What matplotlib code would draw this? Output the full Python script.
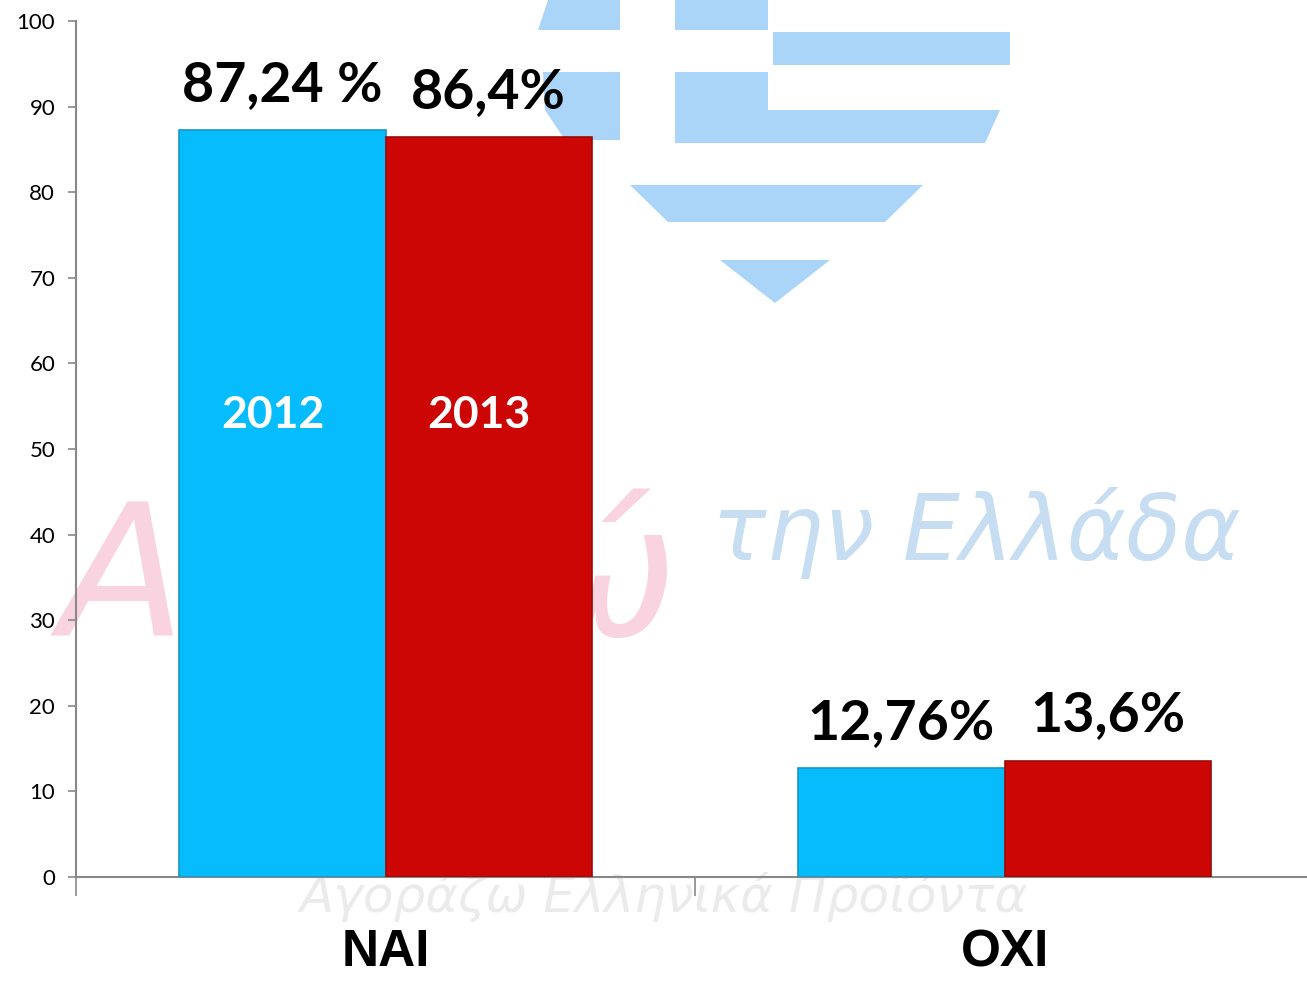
import matplotlib
matplotlib.use("Agg")
import matplotlib.pyplot as plt
from matplotlib.patches import Polygon
from matplotlib.transforms import Affine2D
import numpy as np

# ---- data ----
categories = ["ΝΑΙ", "ΟΧΙ"]
years = ["2012", "2013"]
values_2012 = [87.24, 12.76]
values_2013 = [86.4, 13.6]
labels_2012 = ["87,24 %", "12,76%"]
labels_2013 = ["86,4%", "13,6%"]
yticks = list(range(0, 101, 10))

W, H = 1307, 981
fig = plt.figure(figsize=(W / 100, H / 100), dpi=100)
fig.patch.set_facecolor("white")

# ---- faint background watermark (decorative) ----
px = Affine2D().scale(1 / W, -1 / H).translate(0, 1) + fig.transFigure
flag_blue = "#AAD4F8"
shapes = [
    [(548, 0), (620, 0), (620, 30), (538, 30)],
    [(675, 0), (768, 0), (768, 30), (675, 30)],
    [(773, 32), (1010, 32), (1010, 65), (773, 65)],
    [(543, 72), (620, 72), (620, 140), (565, 140), (545, 110)],
    [(675, 72), (768, 72), (768, 110), (1000, 110), (985, 143), (675, 143)],
    [(630, 185), (923, 185), (885, 222), (668, 222)],
    [(720, 260), (830, 260), (775, 303)],
]
for s in shapes:
    fig.add_artist(Polygon(s, closed=True, transform=px, facecolor=flag_blue,
                           edgecolor="none", zorder=-2))

fig.text(60 / W, 1 - 635 / H, "Αγαπώ", transform=fig.transFigure, fontsize=132,
         style="italic", color="#F9D3E0", zorder=-2, family="DejaVu Sans")
fig.text(712 / W, 1 - 560 / H, "την Ελλάδα", transform=fig.transFigure, fontsize=65,
         style="italic", color="#C6DDF2", zorder=-2, family="DejaVu Sans")
fig.text(300 / W, 1 - 912 / H, "Αγοράζω Ελληνικά Προϊόντα", transform=fig.transFigure,
         fontsize=36, style="italic", color="#EBEBEB", zorder=-2, family="DejaVu Sans")

# ---- axes ----
ax = fig.add_axes([76 / W, 104 / H, 1238 / W, 856 / H])
ax.patch.set_alpha(0)

x = np.arange(len(categories))
bw = 0.333
c2012 = "#06BCFC"
c2013 = "#CC0505"
b1 = ax.bar(x - bw / 2, values_2012, bw, color=c2012, edgecolor="#1597C4",
            linewidth=1.2, zorder=3)
b2 = ax.bar(x + bw / 2, values_2013, bw, color=c2013, edgecolor="#9A0A0A",
            linewidth=1.2, zorder=3)

ax.set_xlim(-0.5, 1.5)
ax.set_ylim(0, 100)
ax.set_yticks(yticks)
ax.tick_params(axis="y", labelsize=16, length=6, width=1.2, color="#888888",
               direction="out", pad=9)
for lab in ax.get_yticklabels():
    lab.set_family("Lato")

ax.set_xticks(x)
ax.set_xticklabels(categories, fontsize=37, fontweight="bold", family="Liberation Sans")
ax.tick_params(axis="x", which="major", length=0, pad=37)
ax.set_xticks([-0.5, 0.5, 1.5], minor=True)
ax.tick_params(axis="x", which="minor", length=14, width=1.2, color="#888888",
               direction="out")

for sp in ["top", "right"]:
    ax.spines[sp].set_visible(False)
for sp in ["left", "bottom"]:
    ax.spines[sp].set_color("#888888")
    ax.spines[sp].set_linewidth(1.5)

# value labels above bars
for bars, labs in [(b1, labels_2012), (b2, labels_2013)]:
    for rect, lab in zip(bars, labs):
        ax.annotate(lab, (rect.get_x() + rect.get_width() / 2, rect.get_height()),
                    xytext=(0, 21), textcoords="offset points", ha="center",
                    va="baseline", fontsize=40, fontweight="bold", family="Lato",
                    color="black", zorder=5)

# year labels inside the first category bars
for rect, yr in zip([b1[0], b2[0]], years):
    ax.text(rect.get_x() + rect.get_width() / 2 - 0.015, 54, yr, ha="center",
            va="center", fontsize=32, fontweight="bold", family="Lato",
            color="white", zorder=5)

fig.savefig("out.png", dpi=100)
